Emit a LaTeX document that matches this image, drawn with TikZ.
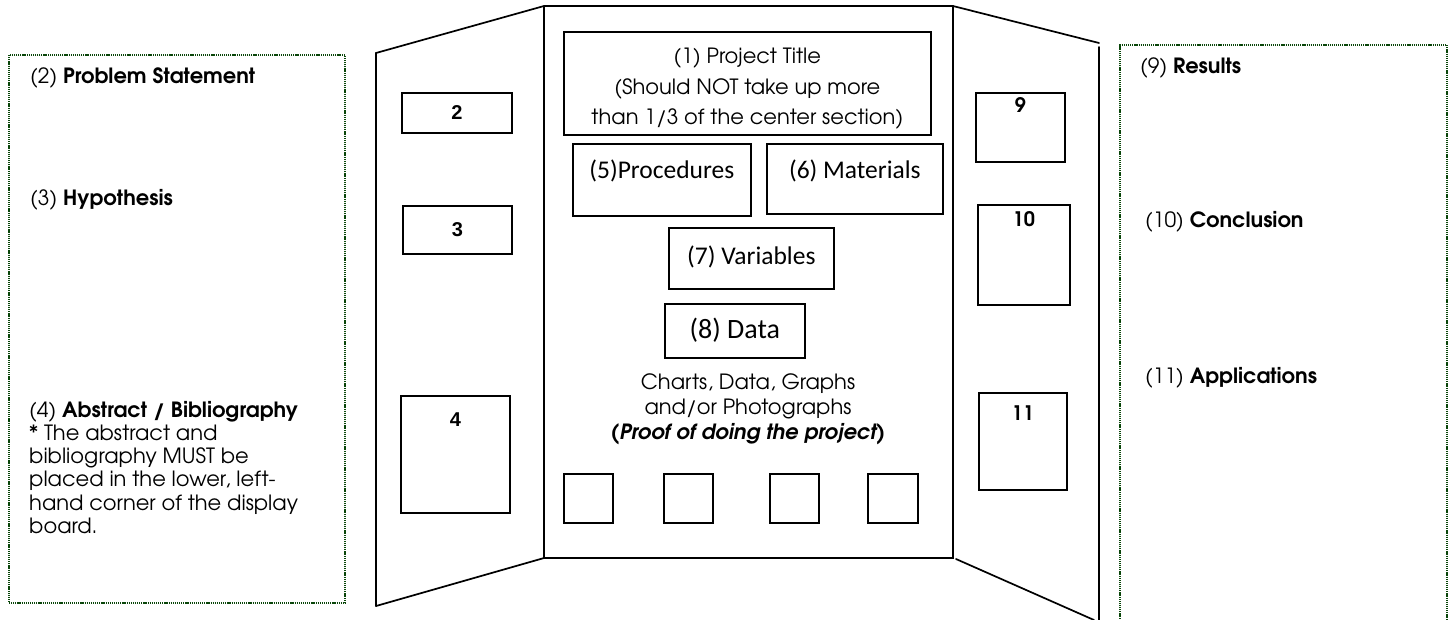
\documentclass[tikz,border=0pt]{standalone}
\usepackage{fontspec}
\setmainfont{TeX Gyre Adventor}
\newfontfamily\calib{Carlito}
\newfontfamily\arialf{Liberation Sans}
\definecolor{dkgreen}{RGB}{10,70,10}
\begin{document}
\begin{tikzpicture}[x=1pt,y=-1pt,
  edge/.style={line width=1.7pt, line cap=round, line join=miter},
  slot/.style={draw, line width=1.7pt, inner sep=0pt, anchor=north west},
  note/.style={draw=dkgreen, line width=1.9pt, dash pattern=on 1.2pt off 0.9pt},
  side/.style={anchor=west, font=\fontsize{21}{23.2}\selectfont, align=left, inner sep=0pt},
  num/.style={font=\arialf\bfseries\fontsize{20}{22}\selectfont, inner sep=0pt},
  gnum/.style={font=\bfseries\fontsize{20}{22}\selectfont, inner sep=0pt},
  cal/.style={font=\calib\fontsize{25.5}{28}\selectfont, inner sep=0pt},
  mid/.style={font=\fontsize{21}{30.5}\selectfont, align=center, inner sep=0pt}]
\useasboundingbox (0,0) rectangle (1453,619);

% dotted note frames
\node[note, anchor=north west, minimum width=336, minimum height=548] (leftnote) at (8,54) {};
\coordinate (rn1) at (1120,625);
\coordinate (rn2) at (1120,45);
\coordinate (rn3) at (1447,45);
\coordinate (rn4) at (1447,625);
\draw[note] (rn1) -- (rn2) -- (rn3) -- (rn4);

% board outline
\coordinate (lt) at (376,53);
\coordinate (lb) at (376,606);
\coordinate (ct1) at (544,6);
\coordinate (cb1) at (544,558);
\coordinate (ct2) at (953,6);
\coordinate (cb2) at (953,558);
\coordinate (rt) at (1099,43);
\coordinate (rte) at (1099,47);
\coordinate (rbe) at (1099,625);
\coordinate (rb0) at (956,559);
\coordinate (rb) at (1094,620);
\draw[edge] (lb) -- (lt) -- (ct1) -- (ct2) -- (rt);
\draw[edge] (lb) -- (cb1);
\draw[edge] (ct1) -- (cb1) -- (cb2) -- (ct2);
\draw[edge] (rte) -- (rbe);
\draw[edge] (rb0) -- (rb);

% left panel
\node[slot, minimum width=110, minimum height=40] (b2) at (401,92) {};
\node[num] (t2) at (b2.center) {2};
\node[slot, minimum width=109, minimum height=48] (b3) at (402,205) {};
\node[num] (t3) at (b3.center) {3};
\node[slot, minimum width=109, minimum height=117] (b4) at (400,395) {};
\node[num] (t4) at ([yshift=-25pt]b4.north) {4};

% centre panel
\node[slot, minimum width=367, minimum height=103] (b1) at (563,31) {};
\node[mid] (t1) at ([yshift=-5.5pt]b1.center) {(1) Project Title\\(Should NOT take up more\\than 1/3 of the center section)};
\node[slot, minimum width=178, minimum height=72] (b5) at (572,143) {};
\node[cal] (t5) at ([yshift=-28pt]b5.north) {(5)Procedures};
\node[slot, minimum width=176, minimum height=70] (b6) at (766,143) {};
\node[cal] (t6) at ([yshift=-28pt]b6.north) {(6) Materials};
\node[slot, minimum width=165, minimum height=61] (b7) at (668,227) {};
\node[cal] (t7) at ([yshift=1pt]b7.center) {(7) Variables};
\node[slot, minimum width=140, minimum height=54] (b8) at (664,303) {};
\node[cal, font=\calib\fontsize{28}{30}\selectfont] (t8) at ([yshift=1pt]b8.center) {(8) Data};
\node[mid, font=\fontsize{21}{25}\selectfont] (tdata) at (748,409) {Charts, Data, Graphs\\and/or Photographs\\\textbf{\textit{(Proof of doing the project)}}};
\node[slot, minimum width=49, minimum height=49] (p1) at (563,473) {};
\node[slot, minimum width=49, minimum height=49] (p2) at (663,473) {};
\node[slot, minimum width=49, minimum height=49] (p3) at (769,473) {};
\node[slot, minimum width=50, minimum height=49] (p4) at (867,473) {};

% right panel
\node[slot, minimum width=89, minimum height=69] (b9) at (975,92) {};
\node[gnum] (t9) at ([yshift=-13pt]b9.north) {9};
\node[slot, minimum width=92, minimum height=100] (b10) at (977,204) {};
\node[gnum] (t10) at ([yshift=-15pt]b10.north) {10};
\node[slot, minimum width=88, minimum height=97] (b11) at (978,392) {};
\node[gnum] (t11) at ([yshift=-21pt]b11.north) {11};

% left notes text
\node[side] (n2) at (30,78) {(2) \textbf{Problem Statement}};
\node[side] (n3) at (30,200) {(3) \textbf{Hypothesis}};
\node[side, anchor=north west] (n4) at (29,401) {(4) \textbf{Abstract / Bibliography}\\* The abstract and\\bibliography MUST be\\placed in the lower, left-\\hand corner of the display\\board.};

% right notes text
\node[side] (n9) at (1140,68) {(9) \textbf{Results}};
\node[side] (n10) at (1145,222) {(10) \textbf{Conclusion}};
\node[side] (n11) at (1145,378) {(11) \textbf{Applications}};
\end{tikzpicture}
\end{document}
